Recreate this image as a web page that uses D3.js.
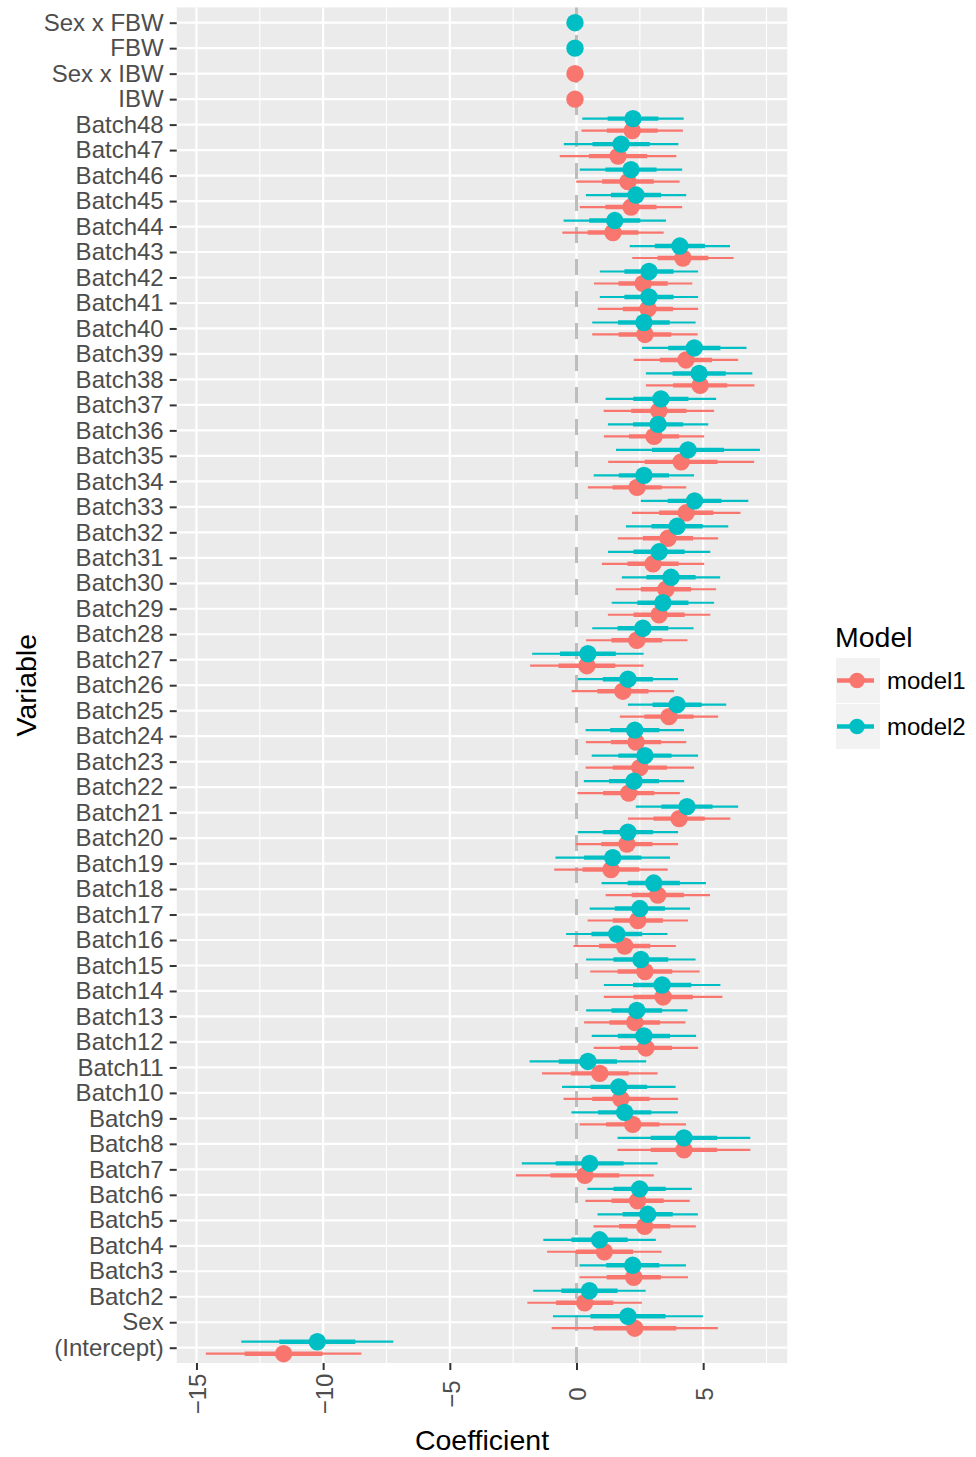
<!DOCTYPE html>
<html>
<head>
<meta charset="utf-8">
<script src="https://cdn.jsdelivr.net/npm/d3@7"></script>
<style>
  html, body { margin: 0; padding: 0; background: #ffffff; }
  svg { display: block; font-family: "Liberation Sans", Arial, sans-serif; }
</style>
</head>
<body>
<svg id="chart" width="976" height="1457"></svg>
<script>
// Coefficient plot: two models, point estimate with ±1 SE (thick) and ±2 SE (thin) intervals.

// Variables, listed from the bottom of the axis to the top
const variables = [
  "(Intercept)", "Sex",
  "Batch2", "Batch3", "Batch4", "Batch5", "Batch6", "Batch7", "Batch8", "Batch9",
  "Batch10", "Batch11", "Batch12", "Batch13", "Batch14", "Batch15", "Batch16", "Batch17",
  "Batch18", "Batch19", "Batch20", "Batch21", "Batch22", "Batch23", "Batch24", "Batch25",
  "Batch26", "Batch27", "Batch28", "Batch29", "Batch30", "Batch31", "Batch32", "Batch33",
  "Batch34", "Batch35", "Batch36", "Batch37", "Batch38", "Batch39", "Batch40", "Batch41",
  "Batch42", "Batch43", "Batch44", "Batch45", "Batch46", "Batch47", "Batch48",
  "IBW", "Sex x IBW", "FBW", "Sex x FBW"
];

// model1 estimates and standard errors (null = term not in the model)
const model1Coef = [
  -11.56, 2.30,
  0.32, 2.26, 1.10, 2.69, 2.41, 0.33, 4.24, 2.22,
  1.75, 0.92, 2.74, 2.30, 3.42, 2.70, 1.90, 2.42,
  3.21, 1.36, 1.99, 4.05, 2.06, 2.50, 2.35, 3.65,
  1.83, 0.41, 2.38, 3.26, 3.53, 3.02, 3.61, 4.33,
  2.39, 4.13, 3.06, 3.25, 4.88, 4.32, 2.70, 2.82,
  2.63, 4.20, 1.44, 2.15, 2.03, 1.64, 2.20,
  -0.06, -0.06, null, null
];
const model1SE = [
  1.535, 1.64,
  1.13, 1.07, 1.13, 1.01, 1.03, 1.36, 1.31, 1.05,
  1.13, 1.14, 1.03, 1.00, 1.17, 1.08, 1.01, 0.99,
  1.03, 1.12, 1.01, 1.01, 1.01, 1.07, 0.99, 0.97,
  1.01, 1.12, 1.00, 1.01, 0.99, 1.01, 0.99, 1.07,
  0.97, 1.44, 0.99, 1.09, 1.07, 1.03, 1.04, 0.99,
  0.97, 1.00, 1.00, 1.01, 1.02, 1.15, 1.00,
  0.005, 0.005, null, null
];

// model2 estimates and standard errors
const model2Coef = [
  -10.23, 2.03,
  0.51, 2.22, 0.91, 2.81, 2.49, 0.52, 4.24, 1.90,
  1.67, 0.45, 2.66, 2.38, 3.38, 2.54, 1.59, 2.50,
  3.05, 1.43, 2.03, 4.36, 2.27, 2.70, 2.30, 3.97,
  2.03, 0.45, 2.62, 3.41, 3.73, 3.26, 3.97, 4.66,
  2.66, 4.40, 3.22, 3.33, 4.84, 4.65, 2.66, 2.86,
  2.86, 4.08, 1.51, 2.35, 2.15, 1.76, 2.23,
  null, null, -0.06, -0.06
];
const model2SE = [
  1.50, 1.48,
  1.11, 1.05, 1.11, 0.99, 1.03, 1.34, 1.31, 1.05,
  1.12, 1.15, 1.03, 1.00, 1.15, 1.08, 1.00, 0.99,
  1.03, 1.13, 0.99, 1.01, 0.99, 1.05, 0.97, 0.97,
  0.99, 1.10, 1.00, 1.01, 0.97, 1.01, 1.01, 1.06,
  0.99, 1.42, 0.99, 1.09, 1.05, 1.03, 1.02, 0.97,
  0.97, 0.99, 1.01, 0.99, 1.01, 1.13, 1.00,
  null, null, 0.005, 0.005
];

const models = ["model1", "model2"];
const modelColors = ["#F8766D", "#00BFC4"];
const xTicks = [-15, -10, -5, 0, 5];
const xMinorTicks = [-12.5, -7.5, -2.5, 2.5, 7.5];
const xDomain = [-15.78, 8.32];

// Layout
const panel = { left: 176.7, right: 787.3, top: 7.4, bottom: 1363 };
const tickFont = 24;
const titleFont = 28.5;
const textGrey = "#4d4d4d";

const svg = d3.select("#chart");

const x = d3.scaleLinear().domain(xDomain).range([panel.left, panel.right]);
const y = d3.scalePoint().domain(variables).range([panel.bottom, panel.top]).padding(0.6);
const color = d3.scaleOrdinal().domain(models).range(modelColors);

// Tidy rows, one per model/term
const coefs = [model1Coef, model2Coef];
const ses = [model1SE, model2SE];
const rows = [];
variables.forEach((v, i) => {
  const present = models.filter((m, k) => coefs[k][i] !== null);
  models.forEach((m, k) => {
    if (coefs[k][i] === null) return;
    rows.push({ variable: v, model: m, k, coef: coefs[k][i], se: ses[k][i], dodge: present.length > 1 });
  });
});
const dodgeOffset = 0.235 * y.step();
const yPos = d => y(d.variable) + (d.dodge ? (d.k === 0 ? dodgeOffset : -dodgeOffset) : 0);

// Panel background and grid
svg.append("rect")
  .attr("x", panel.left).attr("y", panel.top)
  .attr("width", panel.right - panel.left).attr("height", panel.bottom - panel.top)
  .attr("fill", "#ebebeb");

const grid = svg.append("g");
grid.selectAll(".minor-x").data(xMinorTicks).join("line")
  .attr("x1", d => x(d)).attr("x2", d => x(d))
  .attr("y1", panel.top).attr("y2", panel.bottom)
  .attr("stroke", "#ffffff").attr("stroke-width", 1.1);
grid.selectAll(".major-x").data(xTicks).join("line")
  .attr("x1", d => x(d)).attr("x2", d => x(d))
  .attr("y1", panel.top).attr("y2", panel.bottom)
  .attr("stroke", "#ffffff").attr("stroke-width", 2.2);
grid.selectAll(".major-y").data(variables).join("line")
  .attr("x1", panel.left).attr("x2", panel.right)
  .attr("y1", d => y(d)).attr("y2", d => y(d))
  .attr("stroke", "#ffffff").attr("stroke-width", 2.2);

// Zero reference line, dashed from the bottom up
svg.append("line")
  .attr("x1", x(0)).attr("x2", x(0))
  .attr("y1", panel.bottom).attr("y2", panel.top)
  .attr("stroke", "#bdbdbd").attr("stroke-width", 3)
  .attr("stroke-dasharray", "16,16");

// Intervals and points
const marks = svg.append("g");
marks.selectAll(".outer").data(rows).join("line")
  .attr("x1", d => x(d.coef - 2 * d.se)).attr("x2", d => x(d.coef + 2 * d.se))
  .attr("y1", yPos).attr("y2", yPos)
  .attr("stroke", d => color(d.model)).attr("stroke-width", 2.2);
marks.selectAll(".inner").data(rows).join("line")
  .attr("x1", d => x(d.coef - d.se)).attr("x2", d => x(d.coef + d.se))
  .attr("y1", yPos).attr("y2", yPos)
  .attr("stroke", d => color(d.model)).attr("stroke-width", 4.4);
marks.selectAll(".pt").data(rows.slice().sort((a, b) => a.k - b.k)).join("circle")
  .attr("cx", d => x(d.coef)).attr("cy", yPos).attr("r", 8.7)
  .attr("fill", d => color(d.model));

// Y axis
const yAxis = svg.append("g")
  .attr("transform", `translate(${panel.left},0)`)
  .call(d3.axisLeft(y).tickSize(7).tickPadding(6));
yAxis.select(".domain").remove();
yAxis.selectAll(".tick line").attr("stroke", "#333333").attr("stroke-width", 2);
yAxis.selectAll(".tick text")
  .attr("fill", textGrey).style("font-size", tickFont + "px")
  .attr("font-family", "\"Liberation Sans\", Arial, sans-serif");

// X axis with vertical labels
const xAxis = svg.append("g")
  .attr("transform", `translate(0,${panel.bottom})`)
  .call(d3.axisBottom(x).tickValues(xTicks).tickSize(7).tickFormat(d3.format("d")));
xAxis.select(".domain").remove();
xAxis.selectAll(".tick line").attr("stroke", "#333333").attr("stroke-width", 2);
xAxis.selectAll(".tick text")
  .attr("x", 0).attr("y", 0).attr("dy", "0.35em")
  .attr("transform", `translate(1,${1394 - panel.bottom}) rotate(-90)`)
  .attr("text-anchor", "middle")
  .attr("fill", textGrey).style("font-size", tickFont + "px")
  .attr("font-family", "\"Liberation Sans\", Arial, sans-serif");

// Axis titles
svg.append("text")
  .attr("x", (panel.left + panel.right) / 2).attr("y", 1450)
  .attr("text-anchor", "middle").attr("fill", "#000")
  .style("font-size", titleFont + "px").text("Coefficient");
svg.append("text")
  .attr("transform", `translate(36,${(panel.top + panel.bottom) / 2}) rotate(-90)`)
  .attr("text-anchor", "middle").attr("fill", "#000")
  .style("font-size", titleFont + "px").text("Variable");

// Legend
const legend = svg.append("g").attr("transform", "translate(835,0)");
legend.append("text").attr("x", 0).attr("y", 647)
  .attr("fill", "#000").style("font-size", titleFont + "px").text("Model");
const keyTop = 658, keySize = 45;
const keys = legend.selectAll(".key").data(models).join("g")
  .attr("transform", (d, i) => `translate(1,${keyTop + i * (keySize + 1)})`);
keys.append("rect").attr("width", 44).attr("height", keySize).attr("fill", "#f2f2f2");
keys.append("line")
  .attr("x1", 1).attr("x2", 38).attr("y1", keySize / 2).attr("y2", keySize / 2)
  .attr("stroke", d => color(d)).attr("stroke-width", 4.4);
keys.append("circle")
  .attr("cx", 21).attr("cy", keySize / 2).attr("r", 7.8)
  .attr("fill", d => color(d));
keys.append("text")
  .attr("x", 51).attr("y", keySize / 2).attr("dy", "0.36em")
  .attr("fill", "#000").style("font-size", tickFont + "px")
  .text(d => d);
</script>
</body>
</html>
